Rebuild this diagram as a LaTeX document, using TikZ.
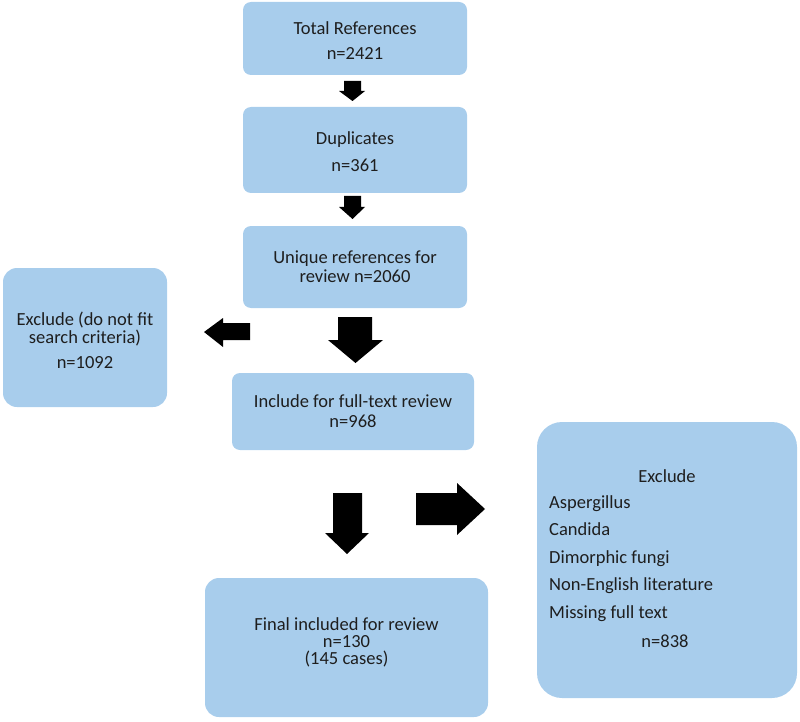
\documentclass[tikz,border=0pt]{standalone}
\usepackage{fontspec}
\setmainfont{Carlito}
\definecolor{boxblue}{RGB}{168,205,236}
\definecolor{txt}{RGB}{30,30,30}
\begin{document}
\begin{tikzpicture}[x=1pt,y=-1pt,
  box/.style={fill=boxblue, draw=none, rounded corners=8pt, align=center, text=txt, inner sep=0pt},
  f/.style={font=\fontsize{18.5}{#1}\selectfont},
  lbl/.style={text=txt, inner sep=0pt},
  barrow/.style={fill=black}]
\useasboundingbox (0,0) rectangle (800,722);
% boxes
\node[box, minimum width=224pt, minimum height=73pt] (b1) at (355,38.5) {};
\node[lbl, f=25, align=center] (b1t) at (355,41) {Total References\\n=2421};
\node[box, minimum width=224pt, minimum height=86pt] (b2) at (355,150) {};
\node[lbl, f=27, align=center] (b2t) at (355,152) {Duplicates\\n=361};
\node[box, f=19, minimum width=224pt, minimum height=82pt] (b3) at (355,267) {Unique references for\\review n=2060};
\node[box, f=20, minimum width=242pt, minimum height=77pt] (b4) at (353,411.5) {Include for full-text review\\n=968};
\node[box, rounded corners=14pt, minimum width=164pt, minimum height=139pt] (exL) at (85,337.5) {};
\node[lbl, f=18, align=center] (exLt) at (85,340) {Exclude (do not fit\\search criteria)\\[7pt]n=1092};
\node[box, rounded corners=14pt, minimum width=283pt, minimum height=139pt] (fin) at (346.5,647.5) {};
\node[lbl, f=17, align=center] (fint) at (346.5,642) {Final included for review\\n=130\\(145 cases)};
\node[box, rounded corners=25pt, minimum width=260pt, minimum height=276pt] (exR) at (667,560) {};
\node[lbl, f=18, anchor=base] (exRt) at (667,482) {Exclude};
\node[lbl, f=27.5, anchor=base west, align=left] (exRl) at (549,618) {Aspergillus\\Candida\\Dimorphic fungi\\Non-English literature\\Missing full text};
\node[lbl, f=18, anchor=base] (exRn) at (665,647) {n=838};
% block arrows
\fill[barrow] (344,81) -- (361,81) -- (361,91) -- (365,91) -- (352.5,101) -- (339,91) -- (344,91) -- cycle;
\fill[barrow] (344,196) -- (361,196) -- (361,207) -- (365,207) -- (352.5,219) -- (339,207) -- (344,207) -- cycle;
\fill[barrow] (338,317) -- (372,317) -- (372,340) -- (383,340) -- (355.5,363) -- (328,340) -- (338,340) -- cycle;
\fill[barrow] (333,493) -- (362,493) -- (362,533) -- (369,533) -- (347,554) -- (325,533) -- (333,533) -- cycle;
\fill[barrow] (250,323) -- (250,340) -- (223,340) -- (223,347) -- (204,332) -- (223,318) -- (223,323) -- cycle;
\fill[barrow] (416,493) -- (457,493) -- (457,483) -- (485,509) -- (457,535) -- (457,525) -- (416,525) -- cycle;
\end{tikzpicture}
\end{document}
